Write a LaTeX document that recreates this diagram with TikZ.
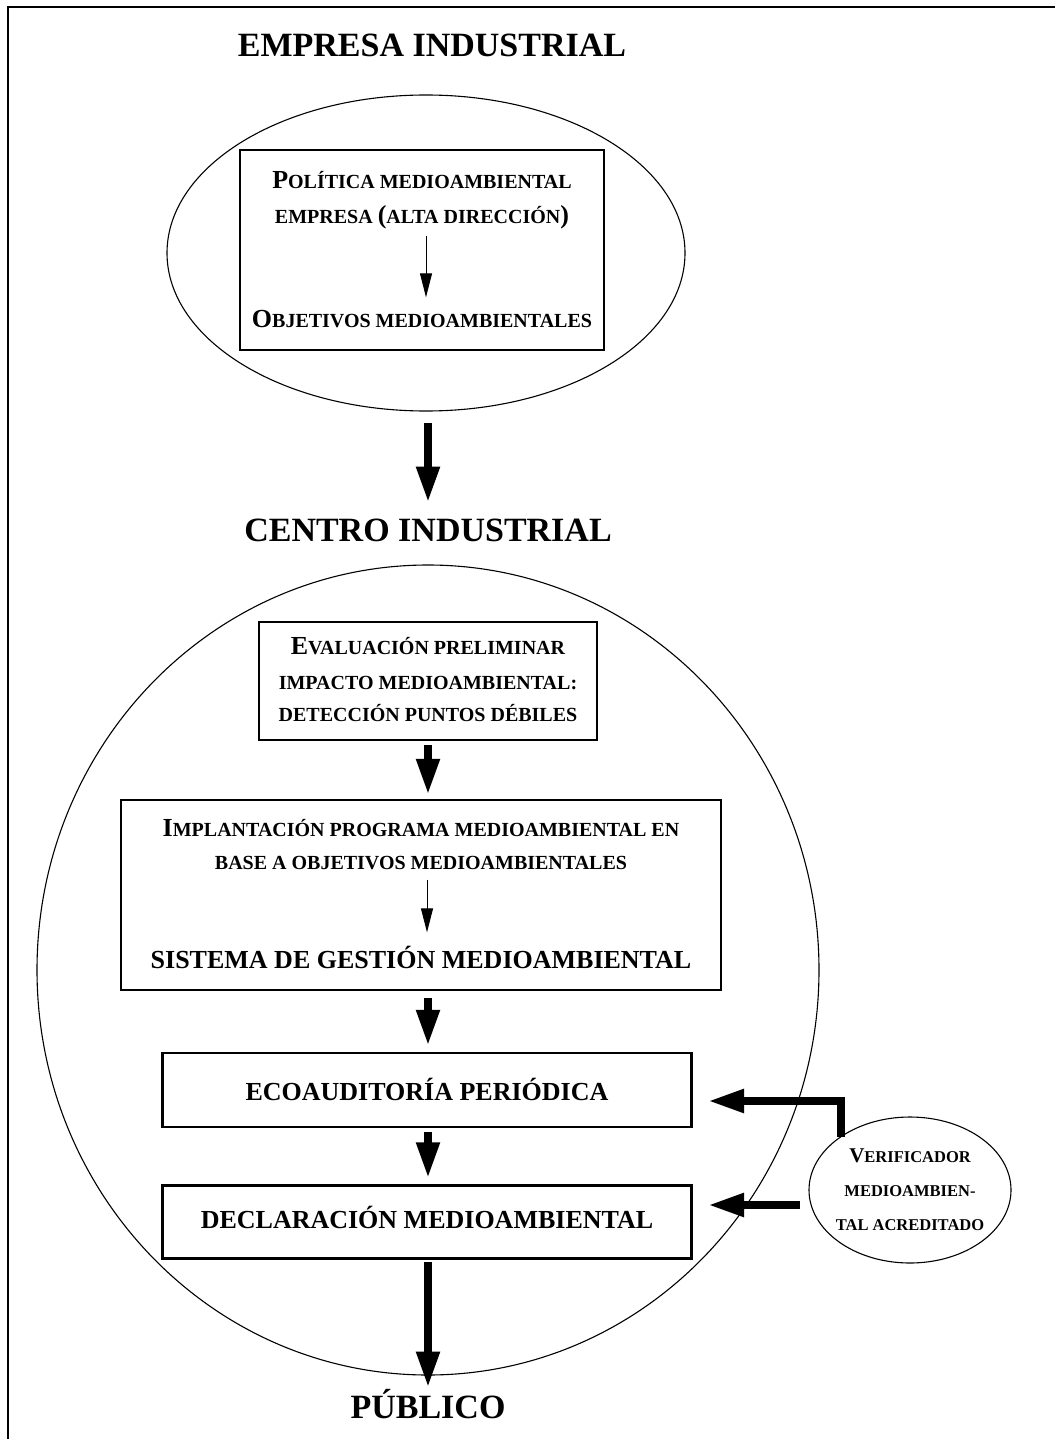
\documentclass[tikz,border=0pt]{standalone}
\usepackage{fontspec}
\setmainfont{Liberation Serif}
\usetikzlibrary{arrows.meta,shapes.geometric}

% fake small capitals: a large initial followed by smaller capitals
\newcommand\capbig[1]{{\fontsize{26pt}{28pt}\selectfont #1}}
\newcommand\capsmall[1]{{\fontsize{20pt}{22pt}\selectfont #1}}
\newcommand\vbig[1]{{\fontsize{21pt}{23pt}\selectfont #1}}
\newcommand\vsmall[1]{{\fontsize{16.5pt}{18pt}\selectfont #1}}

\tikzset{
  txt/.style={font=\bfseries, inner sep=0pt, text height=13pt, text depth=0pt},
  txtbig/.style={font=\bfseries\fontsize{26pt}{28pt}\selectfont, inner sep=0pt, text height=17pt, text depth=0pt},
  heading/.style={font=\bfseries\fontsize{34pt}{36pt}\selectfont, inner sep=0pt, text height=22.5pt, text depth=0pt},
  vtxt/.style={font=\bfseries, inner sep=0pt, text height=11pt, text depth=0pt},
  boxnode/.style={draw, rectangle, line width=2.5pt, inner sep=0pt},
  ring/.style={draw, ellipse, line width=1.1pt, inner sep=0pt},
  heavy/.style={line width=8pt, -{Triangle[width=22pt,length=36pt]}},
  light/.style={line width=1pt, -{Triangle[width=12pt,length=24pt]}},
}

\begin{document}
\begin{tikzpicture}[x=1pt,y=-1pt]
\useasboundingbox (0,0) rectangle (1055,1439);
% page frame
\draw[line width=2pt] (8,1439) -- (8,7) -- (1055,7);

% ---- company level ----
\node[heading] (h1) at (432,45) {EMPRESA INDUSTRIAL};
\node[ring, minimum width=518pt, minimum height=316pt] (e1) at (426,253) {};
\node[boxnode, minimum width=364pt, minimum height=200pt] (b1) at (422,250) {};
\node[txt] (p1) at (422,182) {\capbig{P}\capsmall{OLÍTICA MEDIOAMBIENTAL}};
\node[txt] (p2) at (422,217) {\capsmall{EMPRESA }\capbig{(}\capsmall{ALTA DIRECCIÓN}\capbig{)}};
\node[txt] (p3) at (422,321) {\capbig{O}\capsmall{BJETIVOS MEDIOAMBIENTALES}};
\draw[light, shorten <=12pt, shorten >=17pt] ([xshift=4pt]p2.south) -- ([xshift=4pt]p3.north);

% ---- site level ----
\node[heading] (h2) at (428,530) {CENTRO INDUSTRIAL};
\draw[heavy, shorten <=11pt, shorten >=16pt] (e1.south -| h2.north) -- (h2.north);

\node[ring, minimum width=782pt, minimum height=810pt] (e2) at (428,970) {};

\node[boxnode, minimum width=338pt, minimum height=118pt] (b2) at (428,681) {};
\node[txt] (q1) at (428,648) {\capbig{E}\capsmall{VALUACIÓN PRELIMINAR}};
\node[txt] (q2) at (428,683) {\capsmall{IMPACTO MEDIOAMBIENTAL:}};
\node[txt] (q3) at (428,715) {\capsmall{DETECCIÓN PUNTOS DÉBILES}};

\node[boxnode, minimum width=600pt, minimum height=190pt] (b3) at (421,895) {};
\node[txt] (r1) at (421,830) {\capbig{I}\capsmall{MPLANTACIÓN PROGRAMA MEDIOAMBIENTAL EN}};
\node[txt] (r2) at (421,863) {\capsmall{BASE A OBJETIVOS MEDIOAMBIENTALES}};
\node[txtbig] (r3) at (421,960) {SISTEMA DE GESTIÓN MEDIOAMBIENTAL};
\draw[light, shorten <=10pt, shorten >=19pt] ([xshift=6pt]r2.south) -- ([xshift=6pt]r3.north);

\node[boxnode, minimum width=529pt, minimum height=74pt] (b4) at (427,1090) {};
\node[txtbig] (s1) at (427,1092) {ECOAUDITORÍA PERIÓDICA};

\node[boxnode, minimum width=529pt, minimum height=73pt] (b5) at (427,1222) {};
\node[txtbig] (d1) at (427,1220) {DECLARACIÓN MEDIOAMBIENTAL};

\node[heading] (pub) at (428,1407) {PÚBLICO};

\draw[heavy, shorten <=4pt, shorten >=4pt] (b2.south -| h2) -- (b3.north -| h2);
\draw[heavy, shorten <=7pt, shorten >=6pt] (b3.south -| h2) -- (b4.north -| h2);
\draw[heavy, shorten <=4pt, shorten >=6pt] (b4.south -| h2) -- (b5.north -| h2);
\draw[heavy, shorten <=2pt, shorten >=8pt] (b5.south -| h2) -- (pub.north -| h2);

% ---- external verifier ----
\node[ring, minimum width=202pt, minimum height=146pt] (v) at (910,1190) {};
\node[vtxt] (v1) at (910,1157) {\vbig{V}\vsmall{ERIFICADOR}};
\node[vtxt] (v2) at (910,1191) {\vsmall{MEDIOAMBIEN-}};
\node[vtxt] (v3) at (910,1225) {\vsmall{TAL ACREDITADO}};

\coordinate (vu) at (841,1137);
\coordinate (ua) at (708,1101);
\coordinate (vl) at (800,1205);
\coordinate (la) at (708,1205);
\draw[heavy] (vu) |- (ua);
\draw[heavy] (vl) -- (la);
\end{tikzpicture}
\end{document}
